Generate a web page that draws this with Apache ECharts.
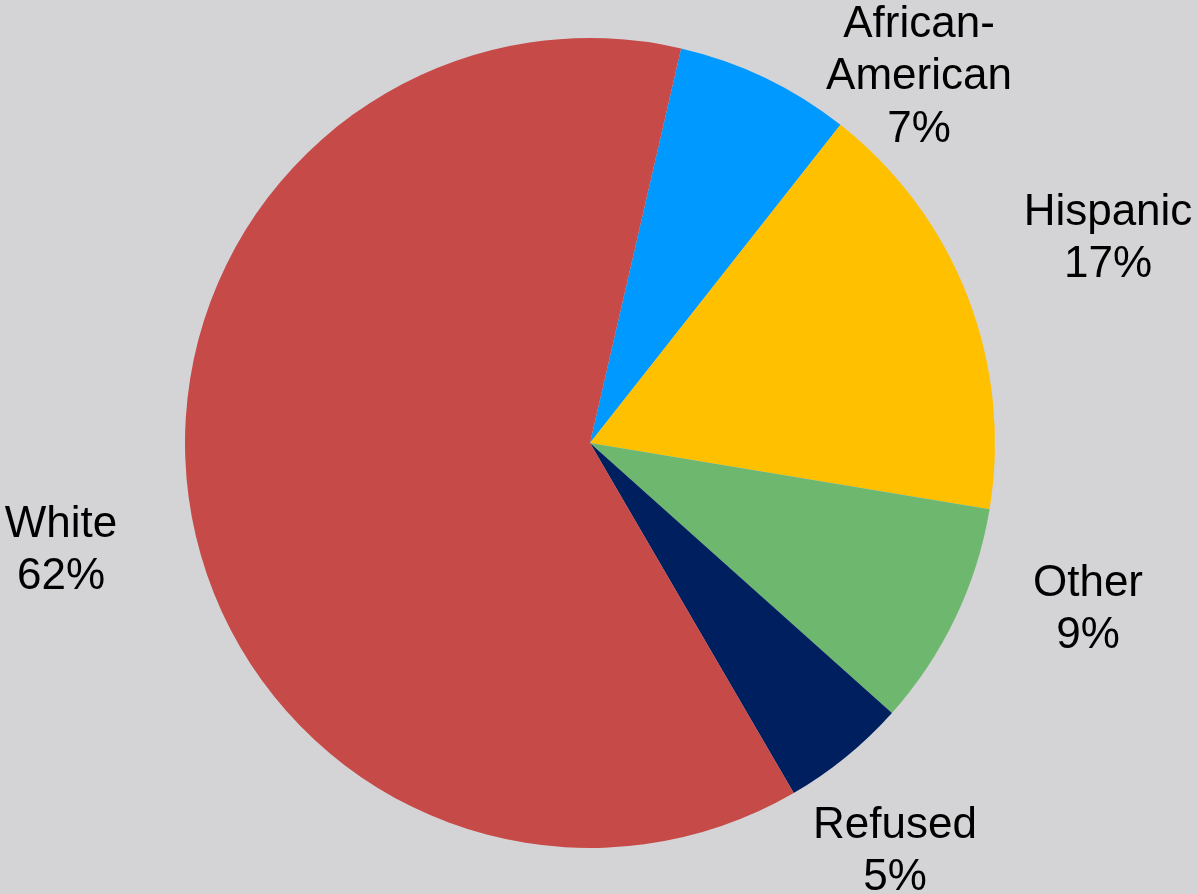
<!DOCTYPE html>
<html>
<head>
<meta charset="utf-8">
<style>
  html, body { margin: 0; padding: 0; background: #D4D4D6; }
  #chart { width: 1198px; height: 894px; }
</style>
<script src="https://cdn.jsdelivr.net/npm/echarts@6/dist/echarts.min.js"></script>
</head>
<body>
<div id="chart"></div>
<script>
// Survey respondents by race / ethnicity (percent)
const categories = ['African-American', 'Hispanic', 'Other', 'Refused', 'White'];
const shares = [7, 17, 9, 5, 62];
const sliceColors = ['#0099FF', '#FFC000', '#6DB76F', '#001F5F', '#C64A48'];

// Where each label block is centred, relative to the pie centre (px)
const labelOffsets = [[329, -366], [518, -204], [498, 167], [305, 409], [-529, 108]];
const pieCenter = [590, 443];

const chart = echarts.init(document.getElementById('chart'), null, { renderer: 'canvas' });

chart.setOption({
  backgroundColor: '#D4D4D6',
  animation: false,
  series: [{
    type: 'pie',
    center: pieCenter,
    radius: 405,
    startAngle: 77,
    clockwise: true,
    avoidLabelOverlap: false,
    itemStyle: { borderWidth: 0 },
    label: {
      show: true,
      position: 'outside',
      color: '#000000',
      fontFamily: '"Liberation Sans", Arial, sans-serif',
      fontSize: 44,
      lineHeight: 52.5,
      align: 'center',
      formatter: p => p.name.replace('-', '-\n') + '\n' + p.value + '%'
    },
    labelLine: { show: false },
    labelLayout: p => {
      const o = labelOffsets[p.dataIndex];
      return {
        x: pieCenter[0] + o[0],
        y: pieCenter[1] + o[1],
        align: 'center',
        verticalAlign: 'middle',
        hideOverlap: false
      };
    },
    emphasis: { disabled: true },
    data: categories.map((c, i) => ({
      name: c,
      value: shares[i],
      itemStyle: { color: sliceColors[i] }
    }))
  }]
});
</script>
</body>
</html>
